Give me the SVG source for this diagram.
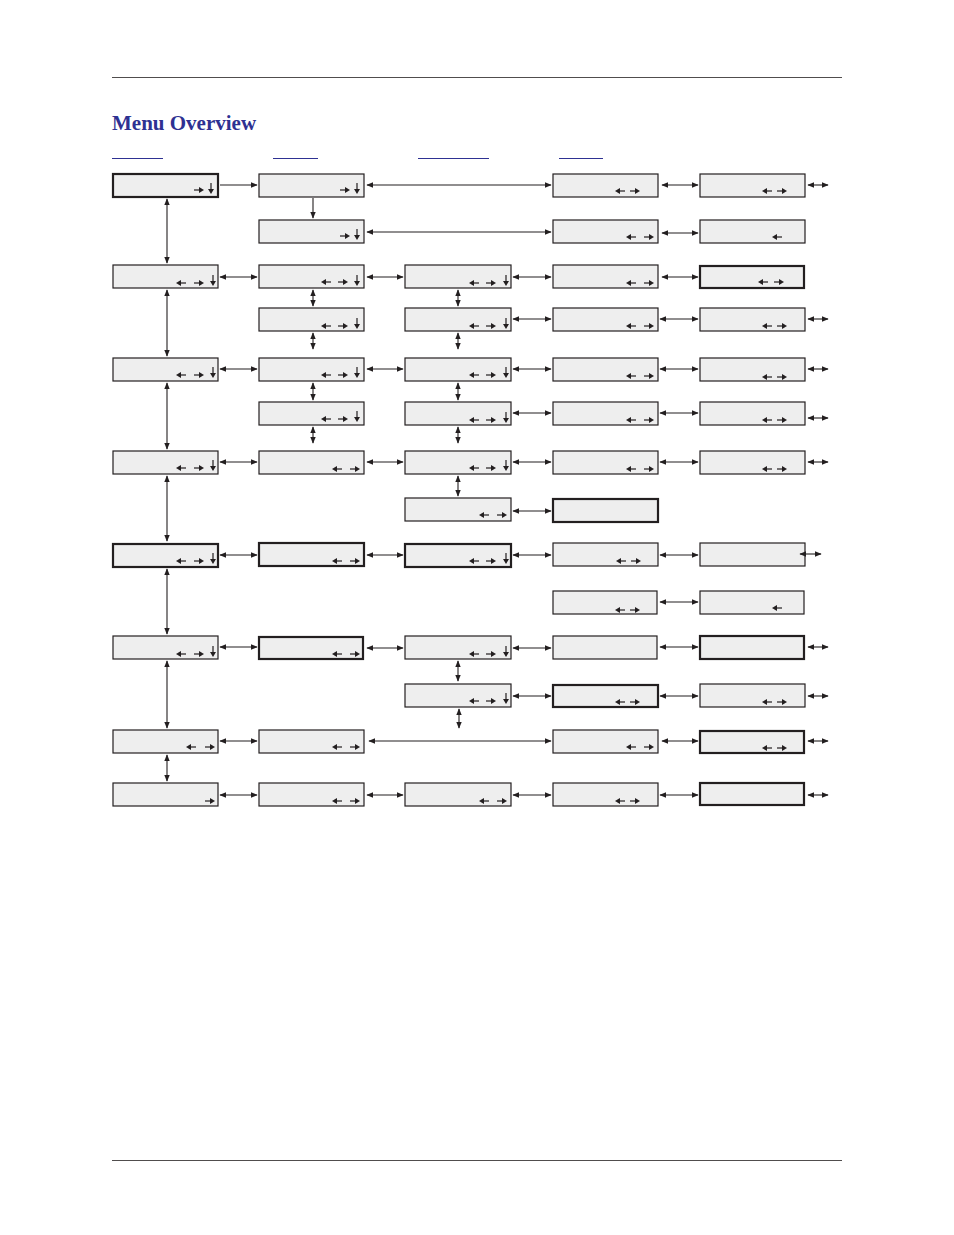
<svg xmlns="http://www.w3.org/2000/svg" xmlns:xlink="http://www.w3.org/1999/xlink" width="954" height="1235" viewBox="0 0 954 1235">
<style>
.b{fill:#eeeeee;stroke:#231f20;stroke-width:1.2}
.t{stroke-width:2.2}
.c line{stroke:#231f20;stroke-width:1.1;marker-end:url(#ah)}
.c .d{marker-start:url(#ah)}
.u{stroke:#2e3192;stroke-width:1}
.r{stroke:#231f20;stroke-width:0.8}
</style>
<defs>
<marker id="ah" viewBox="0 0 10 8" refX="9" refY="4" markerWidth="7" markerHeight="5.6" markerUnits="userSpaceOnUse" orient="auto-start-reverse"><path d="M0,0L10,4L0,8z" fill="#231f20"/></marker>
<g id="L"><path d="M0,0L5,-3V3z" fill="#231f20"/><path d="M4,0H10" stroke="#231f20" stroke-width="1.2"/></g>
<g id="R"><path d="M10,0L5,-3V3z" fill="#231f20"/><path d="M0,0H6" stroke="#231f20" stroke-width="1.2"/></g>
<g id="D"><path d="M0,6L-3,1H3z" fill="#231f20"/><path d="M0,-5V2" stroke="#231f20" stroke-width="1.2"/></g>
</defs>
<rect width="954" height="1235" fill="#fff"/>
<line class="r" x1="112" y1="77.5" x2="842" y2="77.5"/>
<line class="r" x1="112" y1="1160.5" x2="842" y2="1160.5"/>
<text x="112" y="130" font-family="Liberation Serif, serif" font-weight="bold" font-size="21" fill="#2e3192">Menu Overview</text>
<line class="u" x1="112" y1="158.5" x2="163" y2="158.5"/>
<line class="u" x1="273" y1="158.5" x2="318" y2="158.5"/>
<line class="u" x1="418" y1="158.5" x2="489" y2="158.5"/>
<line class="u" x1="559" y1="158.5" x2="603" y2="158.5"/>

<g id="r1c1"><rect class="b t" x="113" y="174" width="105" height="23"/><use href="#R" x="194" y="190"/><use href="#D" x="211" y="188"/></g>
<g id="r1c2"><rect class="b" x="259" y="174" width="105" height="23"/><use href="#R" x="340" y="190"/><use href="#D" x="357" y="188"/></g>
<g id="r1c4"><rect class="b" x="553" y="174" width="105" height="23"/><use href="#L" x="615" y="191"/><use href="#R" x="630" y="191"/></g>
<g id="r1c5"><rect class="b" x="700" y="174" width="105" height="23"/><use href="#L" x="762" y="191"/><use href="#R" x="777" y="191"/></g>

<g id="r1bc2"><rect class="b" x="259" y="220" width="105" height="23"/><use href="#R" x="340" y="236"/><use href="#D" x="357" y="234"/></g>
<g id="r1bc4"><rect class="b" x="553" y="220" width="105" height="23"/><use href="#L" x="626" y="237"/><use href="#R" x="644" y="237"/></g>
<g id="r1bc5"><rect class="b" x="700" y="220" width="105" height="23"/><use href="#L" x="772" y="237"/></g>

<g id="r2c1"><rect class="b" x="113" y="265" width="105" height="23"/><use href="#L" x="176" y="283"/><use href="#R" x="194" y="283"/><use href="#D" x="213" y="280"/></g>
<g id="r2c2"><rect class="b" x="259" y="265" width="105" height="23"/><use href="#L" x="321" y="282"/><use href="#R" x="338" y="282"/><use href="#D" x="357" y="280"/></g>
<g id="r2c3"><rect class="b" x="405" y="265" width="106" height="23"/><use href="#L" x="469" y="283"/><use href="#R" x="486" y="283"/><use href="#D" x="506" y="280"/></g>
<g id="r2c4"><rect class="b" x="553" y="265" width="105" height="23"/><use href="#L" x="626" y="283"/><use href="#R" x="644" y="283"/></g>
<g id="r2c5"><rect class="b t" x="700" y="266" width="104" height="22"/><use href="#L" x="758" y="282"/><use href="#R" x="774" y="282"/></g>

<g id="r2bc2"><rect class="b" x="259" y="308" width="105" height="23"/><use href="#L" x="321" y="326"/><use href="#R" x="338" y="326"/><use href="#D" x="357" y="323"/></g>
<g id="r2bc3"><rect class="b" x="405" y="308" width="106" height="23"/><use href="#L" x="469" y="326"/><use href="#R" x="486" y="326"/><use href="#D" x="506" y="323"/></g>
<g id="r2bc4"><rect class="b" x="553" y="308" width="105" height="23"/><use href="#L" x="626" y="326"/><use href="#R" x="644" y="326"/></g>
<g id="r2bc5"><rect class="b" x="700" y="308" width="105" height="23"/><use href="#L" x="762" y="326"/><use href="#R" x="777" y="326"/></g>

<g id="r3c1"><rect class="b" x="113" y="358" width="105" height="23"/><use href="#L" x="176" y="375"/><use href="#R" x="194" y="375"/><use href="#D" x="213" y="372"/></g>
<g id="r3c2"><rect class="b" x="259" y="358" width="105" height="23"/><use href="#L" x="321" y="375"/><use href="#R" x="338" y="375"/><use href="#D" x="357" y="372"/></g>
<g id="r3c3"><rect class="b" x="405" y="358" width="106" height="23"/><use href="#L" x="469" y="375"/><use href="#R" x="486" y="375"/><use href="#D" x="506" y="372"/></g>
<g id="r3c4"><rect class="b" x="553" y="358" width="105" height="23"/><use href="#L" x="626" y="376"/><use href="#R" x="644" y="376"/></g>
<g id="r3c5"><rect class="b" x="700" y="358" width="105" height="23"/><use href="#L" x="762" y="377"/><use href="#R" x="777" y="377"/></g>

<g id="r3bc2"><rect class="b" x="259" y="402" width="105" height="23"/><use href="#L" x="321" y="419"/><use href="#R" x="338" y="419"/><use href="#D" x="357" y="416"/></g>
<g id="r3bc3"><rect class="b" x="405" y="402" width="106" height="23"/><use href="#L" x="469" y="420"/><use href="#R" x="486" y="420"/><use href="#D" x="506" y="417"/></g>
<g id="r3bc4"><rect class="b" x="553" y="402" width="105" height="23"/><use href="#L" x="626" y="420"/><use href="#R" x="644" y="420"/></g>
<g id="r3bc5"><rect class="b" x="700" y="402" width="105" height="23"/><use href="#L" x="762" y="420"/><use href="#R" x="777" y="420"/></g>

<g id="r4c1"><rect class="b" x="113" y="451" width="105" height="23"/><use href="#L" x="176" y="468"/><use href="#R" x="194" y="468"/><use href="#D" x="213" y="465"/></g>
<g id="r4c2"><rect class="b" x="259" y="451" width="105" height="23"/><use href="#L" x="332" y="469"/><use href="#R" x="350" y="469"/></g>
<g id="r4c3"><rect class="b" x="405" y="451" width="106" height="23"/><use href="#L" x="469" y="468"/><use href="#R" x="486" y="468"/><use href="#D" x="506" y="465"/></g>
<g id="r4c4"><rect class="b" x="553" y="451" width="105" height="23"/><use href="#L" x="626" y="469"/><use href="#R" x="644" y="469"/></g>
<g id="r4c5"><rect class="b" x="700" y="451" width="105" height="23"/><use href="#L" x="762" y="469"/><use href="#R" x="777" y="469"/></g>

<g id="r4bc3"><rect class="b" x="405" y="498" width="106" height="23"/><use href="#L" x="479" y="515"/><use href="#R" x="497" y="515"/></g>
<g id="r4bc4"><rect class="b t" x="553" y="499" width="105" height="23"/></g>

<g id="r5c1"><rect class="b t" x="113" y="544" width="105" height="23"/><use href="#L" x="176" y="561"/><use href="#R" x="194" y="561"/><use href="#D" x="213" y="558"/></g>
<g id="r5c2"><rect class="b t" x="259" y="543" width="105" height="23"/><use href="#L" x="332" y="561"/><use href="#R" x="350" y="561"/></g>
<g id="r5c3"><rect class="b t" x="405" y="544" width="106" height="23"/><use href="#L" x="469" y="561"/><use href="#R" x="486" y="561"/><use href="#D" x="506" y="558"/></g>
<g id="r5c4"><rect class="b" x="553" y="543" width="105" height="23"/><use href="#L" x="616" y="561"/><use href="#R" x="631" y="561"/></g>
<g id="r5c5"><rect class="b" x="700" y="543" width="105" height="23"/></g>

<g id="r5bc4"><rect class="b" x="553" y="591" width="104" height="23"/><use href="#L" x="615" y="610"/><use href="#R" x="630" y="610"/></g>
<g id="r5bc5"><rect class="b" x="700" y="591" width="104" height="23"/><use href="#L" x="772" y="608"/></g>

<g id="r6c1"><rect class="b" x="113" y="636" width="105" height="23"/><use href="#L" x="176" y="654"/><use href="#R" x="194" y="654"/><use href="#D" x="213" y="651"/></g>
<g id="r6c2"><rect class="b t" x="259" y="637" width="104" height="22"/><use href="#L" x="332" y="654"/><use href="#R" x="350" y="654"/></g>
<g id="r6c3"><rect class="b" x="405" y="636" width="106" height="23"/><use href="#L" x="469" y="654"/><use href="#R" x="486" y="654"/><use href="#D" x="506" y="651"/></g>
<g id="r6c4"><rect class="b" x="553" y="636" width="104" height="23"/></g>
<g id="r6c5"><rect class="b t" x="700" y="636" width="104" height="23"/></g>

<g id="r6bc3"><rect class="b" x="405" y="684" width="106" height="23"/><use href="#L" x="469" y="701"/><use href="#R" x="486" y="701"/><use href="#D" x="506" y="698"/></g>
<g id="r6bc4"><rect class="b t" x="553" y="685" width="105" height="22"/><use href="#L" x="615" y="702"/><use href="#R" x="630" y="702"/></g>
<g id="r6bc5"><rect class="b" x="700" y="684" width="105" height="23"/><use href="#L" x="762" y="702"/><use href="#R" x="777" y="702"/></g>

<g id="r7c1"><rect class="b" x="113" y="730" width="105" height="23"/><use href="#L" x="186" y="747"/><use href="#R" x="205" y="747"/></g>
<g id="r7c2"><rect class="b" x="259" y="730" width="105" height="23"/><use href="#L" x="332" y="747"/><use href="#R" x="350" y="747"/></g>
<g id="r7c4"><rect class="b" x="553" y="730" width="105" height="23"/><use href="#L" x="626" y="747"/><use href="#R" x="644" y="747"/></g>
<g id="r7c5"><rect class="b t" x="700" y="731" width="104" height="22"/><use href="#L" x="762" y="748"/><use href="#R" x="777" y="748"/></g>

<g id="r8c1"><rect class="b" x="113" y="783" width="105" height="23"/><use href="#R" x="205" y="801"/></g>
<g id="r8c2"><rect class="b" x="259" y="783" width="105" height="23"/><use href="#L" x="332" y="801"/><use href="#R" x="350" y="801"/></g>
<g id="r8c3"><rect class="b" x="405" y="783" width="106" height="23"/><use href="#L" x="479" y="801"/><use href="#R" x="497" y="801"/></g>
<g id="r8c4"><rect class="b" x="553" y="783" width="105" height="23"/><use href="#L" x="615" y="801"/><use href="#R" x="630" y="801"/></g>
<g id="r8c5"><rect class="b t" x="700" y="783" width="104" height="22"/></g>

<g id="connectors" class="c">
<line x1="220" y1="185" x2="257" y2="185"/>
<line x1="313" y1="198" x2="313" y2="218"/>
<line class="d" x1="367" y1="185" x2="551" y2="185"/>
<line class="d" x1="367" y1="232" x2="551" y2="232"/>
<line class="d" x1="662" y1="185" x2="698" y2="185"/>
<line class="d" x1="662" y1="233" x2="698" y2="233"/>
<line class="d" x1="808" y1="185" x2="828" y2="185"/>

<line class="d" x1="167" y1="199" x2="167" y2="263"/>
<line class="d" x1="167" y1="290" x2="167" y2="356"/>
<line class="d" x1="167" y1="383" x2="167" y2="449"/>
<line class="d" x1="167" y1="476" x2="167" y2="541"/>
<line class="d" x1="167" y1="569" x2="167" y2="634"/>
<line class="d" x1="167" y1="661" x2="167" y2="728"/>
<line class="d" x1="167" y1="755" x2="167" y2="781"/>

<line class="d" x1="313" y1="290" x2="313" y2="306"/>
<line class="d" x1="313" y1="333" x2="313" y2="349"/>
<line class="d" x1="313" y1="383" x2="313" y2="400"/>
<line class="d" x1="313" y1="427" x2="313" y2="443"/>
<line class="d" x1="458" y1="290" x2="458" y2="306"/>
<line class="d" x1="458" y1="333" x2="458" y2="349"/>
<line class="d" x1="458" y1="383" x2="458" y2="400"/>
<line class="d" x1="458" y1="427" x2="458" y2="443"/>
<line class="d" x1="458" y1="476" x2="458" y2="496"/>
<line class="d" x1="458" y1="661" x2="458" y2="681"/>
<line class="d" x1="459" y1="709" x2="459" y2="728"/>

<line class="d" x1="220" y1="277" x2="257" y2="277"/>
<line class="d" x1="367" y1="277" x2="403" y2="277"/>
<line class="d" x1="513" y1="277" x2="551" y2="277"/>
<line class="d" x1="662" y1="277" x2="698" y2="277"/>
<line class="d" x1="513" y1="319" x2="551" y2="319"/>
<line class="d" x1="660" y1="319" x2="698" y2="319"/>
<line class="d" x1="808" y1="319" x2="828" y2="319"/>

<line class="d" x1="220" y1="369" x2="257" y2="369"/>
<line class="d" x1="367" y1="369" x2="403" y2="369"/>
<line class="d" x1="513" y1="369" x2="551" y2="369"/>
<line class="d" x1="660" y1="369" x2="698" y2="369"/>
<line class="d" x1="808" y1="369" x2="828" y2="369"/>
<line class="d" x1="513" y1="413" x2="551" y2="413"/>
<line class="d" x1="660" y1="413" x2="698" y2="413"/>
<line class="d" x1="808" y1="418" x2="828" y2="418"/>

<line class="d" x1="220" y1="462" x2="257" y2="462"/>
<line class="d" x1="367" y1="462" x2="403" y2="462"/>
<line class="d" x1="513" y1="462" x2="551" y2="462"/>
<line class="d" x1="660" y1="462" x2="698" y2="462"/>
<line class="d" x1="808" y1="462" x2="828" y2="462"/>
<line class="d" x1="513" y1="511" x2="551" y2="511"/>

<line class="d" x1="220" y1="555" x2="257" y2="555"/>
<line class="d" x1="367" y1="555" x2="403" y2="555"/>
<line class="d" x1="513" y1="555" x2="551" y2="555"/>
<line class="d" x1="660" y1="555" x2="698" y2="555"/>
<line class="d" x1="800" y1="554" x2="821" y2="554"/>
<line class="d" x1="660" y1="602" x2="698" y2="602"/>

<line class="d" x1="220" y1="647" x2="257" y2="647"/>
<line class="d" x1="367" y1="648" x2="403" y2="648"/>
<line class="d" x1="513" y1="648" x2="551" y2="648"/>
<line class="d" x1="660" y1="647" x2="698" y2="647"/>
<line class="d" x1="808" y1="647" x2="828" y2="647"/>
<line class="d" x1="513" y1="696" x2="551" y2="696"/>
<line class="d" x1="660" y1="696" x2="698" y2="696"/>
<line class="d" x1="808" y1="696" x2="828" y2="696"/>

<line class="d" x1="220" y1="741" x2="257" y2="741"/>
<line class="d" x1="369" y1="741" x2="551" y2="741"/>
<line class="d" x1="662" y1="741" x2="698" y2="741"/>
<line class="d" x1="808" y1="741" x2="828" y2="741"/>

<line class="d" x1="220" y1="795" x2="257" y2="795"/>
<line class="d" x1="367" y1="795" x2="403" y2="795"/>
<line class="d" x1="513" y1="795" x2="551" y2="795"/>
<line class="d" x1="660" y1="795" x2="698" y2="795"/>
<line class="d" x1="808" y1="795" x2="828" y2="795"/>
</g>
</svg>
